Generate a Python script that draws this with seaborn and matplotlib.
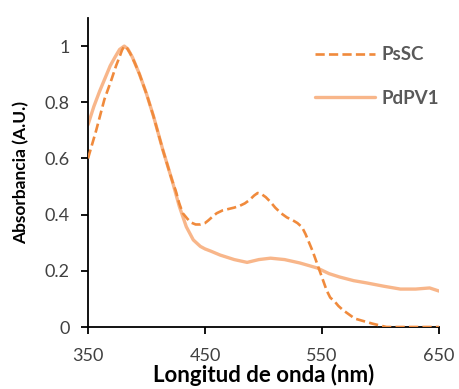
import matplotlib
matplotlib.use("Agg")
import matplotlib.pyplot as plt
import seaborn as sns
import pandas as pd
from matplotlib.ticker import FuncFormatter

wl_pssc = [350, 357, 364, 370, 374, 377, 379, 381, 383, 386, 390, 394, 400, 406, 414,
           422, 425, 428, 431, 435, 438, 442, 446, 450, 453, 457, 460, 465, 470, 475,
           480, 484, 488, 492, 495, 498, 502, 506, 510, 515, 520, 525, 529, 533, 536,
           539, 542, 545, 548, 551, 554, 557, 561, 564, 568, 573, 578, 583, 588, 593,
           597, 601, 605, 620, 635, 650]
abs_pssc = [0.60, 0.70, 0.81, 0.88, 0.93, 0.962, 0.985, 1.00, 0.995, 0.975, 0.94, 0.90,
            0.83, 0.75, 0.63, 0.52, 0.485, 0.44, 0.405, 0.385, 0.372, 0.365, 0.365,
            0.37, 0.38, 0.395, 0.405, 0.415, 0.42, 0.425, 0.432, 0.44, 0.452, 0.468,
            0.477, 0.474, 0.462, 0.445, 0.425, 0.405, 0.39, 0.38, 0.37, 0.355, 0.33,
            0.30, 0.27, 0.235, 0.20, 0.165, 0.13, 0.105, 0.09, 0.075, 0.06, 0.045,
            0.03, 0.024, 0.018, 0.012, 0.008, 0.004, 0.0, 0.0, 0.0, 0.0]
wl_pdpv = [350, 355, 360, 365, 369, 373, 377, 381, 384, 388, 394, 400, 406, 414, 422,
           428, 434, 440, 446, 450, 455, 463, 475, 486, 496, 506, 518, 531, 546, 556,
           565, 577, 588, 603, 617, 630, 642, 650]
abs_pdpv = [0.72, 0.785, 0.84, 0.89, 0.93, 0.96, 0.988, 1.00, 0.99, 0.96, 0.90, 0.83,
            0.75, 0.63, 0.52, 0.43, 0.357, 0.31, 0.287, 0.278, 0.27, 0.256, 0.24, 0.23,
            0.24, 0.245, 0.24, 0.228, 0.21, 0.19, 0.178, 0.165, 0.157, 0.145, 0.135,
            0.135, 0.139, 0.128]

x_ticks = [350, 450, 550, 650]
y_ticks = [0, 0.2, 0.4, 0.6, 0.8, 1.0]

sns.set_theme(style="ticks")
plt.rcParams['font.family'] = ['Lato', 'DejaVu Sans']

df_a = pd.DataFrame({"wl": wl_pssc, "abs": abs_pssc})
df_b = pd.DataFrame({"wl": wl_pdpv, "abs": abs_pdpv})

fig = plt.figure(figsize=(4.59, 3.89), dpi=100)
ax = fig.add_axes([88/459, 1-327/389, (439-88)/459, (327-18)/389])

sns.lineplot(data=df_a, x="wl", y="abs", ax=ax, color="#F08A3C", lw=1.9,
             label="PsSC", zorder=3)
ax.lines[-1].set_dashes((3.5, 1.6))
sns.lineplot(data=df_b, x="wl", y="abs", ax=ax, color="#F8B68A", lw=2.4,
             label="PdPV1", zorder=2)

ax.set_xlim(350, 650)
ax.set_ylim(0, 1.1)
ax.set_xticks(x_ticks)
ax.set_yticks(y_ticks)
ax.yaxis.set_major_formatter(FuncFormatter(
    lambda v, p: "0" if v == 0 else ("1" if abs(v - 1) < 1e-9 else f"{v:.1f}")))
for s in ["top", "right"]:
    ax.spines[s].set_visible(False)
for s in ["left", "bottom"]:
    ax.spines[s].set_color("black")
    ax.spines[s].set_linewidth(1.3)
ax.tick_params(axis="both", colors="black", labelcolor="#404040", labelsize=13,
               length=5, width=1.3, direction="out")
ax.tick_params(axis="x", pad=10)
ax.tick_params(axis="y", pad=8)
ax.set_xlabel("Longitud de onda (nm)", fontsize=16, fontweight="bold", color="black",
              labelpad=0)
ax.set_ylabel("Absorbancia (A.U.)", fontsize=12.5, fontweight="bold", color="black",
              labelpad=11)

leg = ax.legend(loc="upper left", bbox_to_anchor=(0.60, 0.963), frameon=False,
                handlelength=3.2, handletextpad=0.3, labelspacing=1.4,
                prop={"weight": "bold", "size": 13.5})
for t in leg.get_texts():
    t.set_color("#595959")

fig.savefig("out.png", dpi=100)
